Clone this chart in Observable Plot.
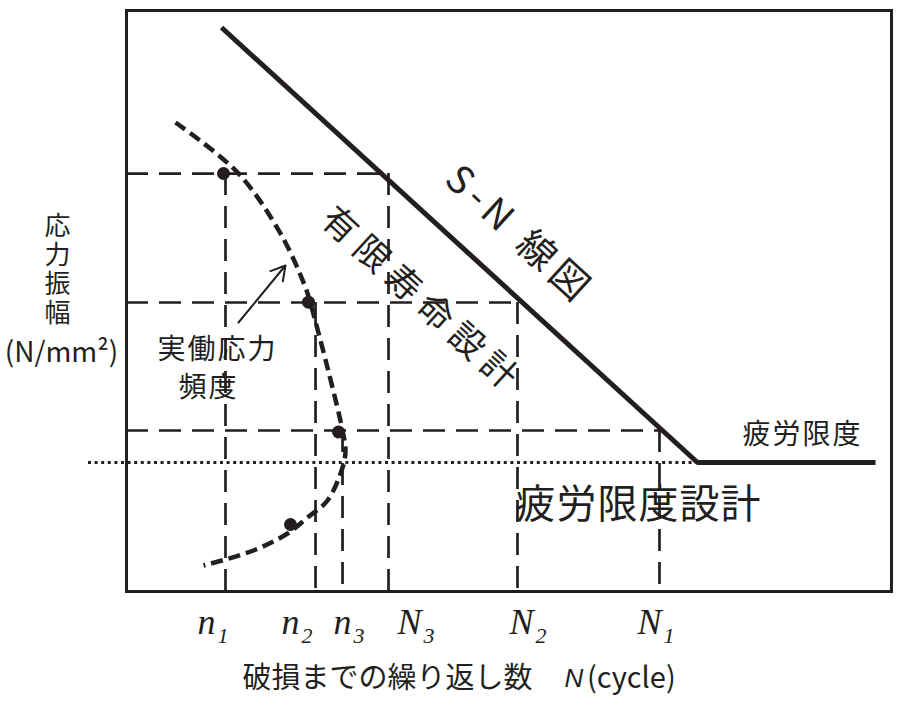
<!DOCTYPE html>
<html><head><meta charset="utf-8">
<script src="https://cdn.jsdelivr.net/npm/d3@7"></script>
<script src="https://cdn.jsdelivr.net/npm/@observablehq/plot@0.6"></script>
<style>body{margin:0;background:#fff}</style>
</head><body><div id="chart"></div>
<script>
// ---- data (schematic units: x = log N, y = stress amplitude, 0..100) ----
const snX = [12.42, 74.64, 97.91];          // S-N line: start, knee, end
const snY = [97.07, 22.20, 22.20];
const stressLevels = [71.94, 49.74, 27.71];  // S1, S2, S3
const lifeN = [34.25, 51.11, 69.67];         // N3, N2, N1
const countsN = [12.94, 24.71, 28.24];       // n1, n2, n3
const enduranceLimit = 22.2;
const dottedStart = -4.97;
const freqX = [6.41, 14.51, 20.13, 23.40, 24.05, 26.27, 28.24, 28.63, 28.24, 26.27, 23.66, 21.05, 16.60, 10.07];
const freqY = [80.72, 72.12, 61.62, 52.32, 49.57, 38.55, 27.71, 24.27, 21.34, 15.66, 12.74, 9.98, 7.06, 4.48];
const dotX = [12.68, 23.79, 27.71, 21.44];
const dotY = [71.94, 49.80, 27.45, 11.53];
const tickBase = ["n", "n", "n", "N", "N", "N"];
const tickSub = ["1", "2", "3", "3", "2", "1"];
const tickX = [11.63, 22.61, 29.41, 38.56, 53.20, 69.93];
const arrowFrom = [14.64, 46.30];
const arrowTo = [20.78, 56.11];
const annotations = [
  {text: "実働応力", x: 11.90, y: 41.48, size: 28, rotate: 0, spacing: 2},
  {text: "頻度", x: 10.72, y: 34.94, size: 28, rotate: 0, spacing: 2},
  {text: "疲労限度", x: 88.37, y: 26.85, size: 28, rotate: 0, spacing: 2},
  {text: "疲労限度設計", x: 66.93, y: 14.80, size: 40, rotate: 0, spacing: 1},
  {text: "S-N 線図", x: 51.3, y: 61.3, size: 38, rotate: 42.5, spacing: 6},
  {text: "有限寿命設計", x: 38.6, y: 50.0, size: 35, rotate: 42.5, spacing: 8}
];
const yTitle = "応力振幅";
const yTitleUnit = "(N/mm²)";
const xTitle = "破損までの繰り返し数";
const xTitleVar = "N";
const xTitleUnit = "(cycle)";

// ---- derived tables ----
const ink = "#231f20";
const sn = snX.map((x, i) => ({x, y: snY[i]}));
const snAt = s => snX[0] + (snY[0] - s) * (snX[1] - snX[0]) / (snY[0] - snY[1]);
const levels = stressLevels.map(s => ({s, xe: snAt(s)}));
const vertN = lifeN.map((x, i) => ({x, s: stressLevels[i]}));
const vertn = countsN.map((x, i) => ({x, s: stressLevels[i]}));
const freq = freqX.map((x, i) => ({x, y: freqY[i]}));
const dots = dotX.map((x, i) => ({x, y: dotY[i]}));
const ticks = tickX.map((x, i) => ({x, base: tickBase[i], sub: tickSub[i]}));

const jp = "'Noto Sans CJK JP', 'Noto Sans', sans-serif";
const dash = "22,11";

const chart = Plot.plot({
  width: 898, height: 709,
  marginLeft: 126, marginRight: 7, marginTop: 10, marginBottom: 118,
  x: {domain: [0, 100], axis: null},
  y: {domain: [0, 100], axis: null},
  style: {fontFamily: jp, background: "#fff", color: ink},
  marks: [
    Plot.ruleY(levels, {y: "s", x1: 0, x2: "xe", stroke: ink, strokeWidth: 2.7, strokeDasharray: dash}),
    Plot.ruleX(vertN, {x: "x", y1: "s", y2: 0, stroke: ink, strokeWidth: 2.7, strokeDasharray: dash}),
    Plot.ruleX(vertn, {x: "x", y1: "s", y2: 0, stroke: ink, strokeWidth: 2.7, strokeDasharray: dash}),
    Plot.ruleY([enduranceLimit], {x1: dottedStart, x2: snX[1], stroke: ink, strokeWidth: 2.8, strokeDasharray: "3,3.6"}),
    Plot.line(freq, {x: "x", y: "y", curve: "catmull-rom", stroke: ink, strokeWidth: 4.5, strokeDasharray: "12,6", strokeLinecap: "butt"}),
    Plot.dot(dots, {x: "x", y: "y", r: 6.5, fill: ink}),
    Plot.line(sn, {x: "x", y: "y", stroke: ink, strokeWidth: 5, strokeLinecap: "butt", strokeLinejoin: "miter"}),
    Plot.frame({stroke: ink, strokeWidth: 3}),
    Plot.arrow([0], {x1: () => arrowFrom[0], y1: () => arrowFrom[1], x2: () => arrowTo[0], y2: () => arrowTo[1], stroke: ink, strokeWidth: 2, headLength: 12, insetEnd: 0}),
    // tick labels
    Plot.text(ticks, {x: "x", y: 0, text: "base", dy: 42, lineAnchor: "bottom", textAnchor: "end", fontFamily: "'Liberation Serif', serif", fontStyle: "italic", fontSize: 36, fill: ink}),
    Plot.text(ticks, {x: "x", y: 0, text: "sub", dx: 2, dy: 51, lineAnchor: "bottom", textAnchor: "start", fontFamily: "'Liberation Serif', serif", fontStyle: "italic", fontSize: 22, fill: ink}),
    // annotations
    ...annotations.map(a => Plot.text([a], {x: "x", y: "y", text: "text", fontSize: a.size, rotate: a.rotate, fill: ink, textAnchor: "middle", lineAnchor: "middle"})),
    // axis titles
    Plot.text([yTitle], {x: -9.02, y: 0, dy: -321, fontSize: 26, fill: ink, textAnchor: "middle", lineAnchor: "bottom"}),
    Plot.text([yTitleUnit], {x: -8.5, y: 0, dy: -238, fontSize: 28, fill: ink, textAnchor: "middle", lineAnchor: "middle"}),
    Plot.text([xTitle], {x: 15.16, y: 0, dy: 87, fontSize: 29, fill: ink, textAnchor: "start", lineAnchor: "middle"}),
    Plot.text([xTitleVar], {x: 57.25, y: 0, dy: 87, fontSize: 26, fontStyle: "italic", fontFamily: "'Liberation Sans', sans-serif", fill: ink, textAnchor: "start", lineAnchor: "middle"}),
    Plot.text([xTitleUnit], {x: 60.2, y: 0, dy: 87, fontSize: 29, fill: ink, textAnchor: "start", lineAnchor: "middle"})
  ]
});

// letter spacing for annotation labels; vertical writing for the y title
const spacing = new Map(annotations.map(a => [a.text, a.spacing]));
chart.querySelectorAll("text").forEach(t => {
  if (spacing.has(t.textContent)) t.setAttribute("letter-spacing", spacing.get(t.textContent));
  if (t.textContent === yTitle) {
    t.style.writingMode = "vertical-rl";
    t.setAttribute("letter-spacing", 3);
  }
});
document.getElementById("chart").append(chart);
</script>
</body></html>
